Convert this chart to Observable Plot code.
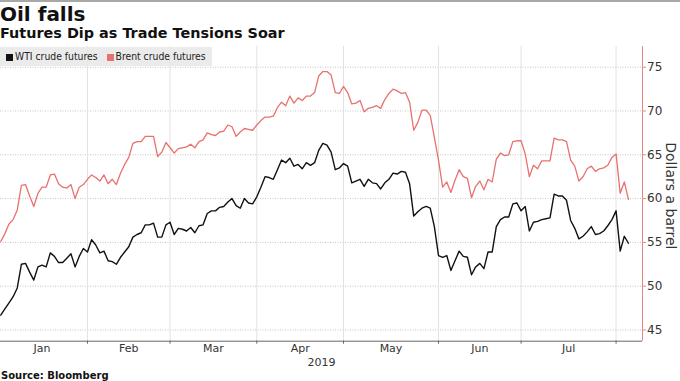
<!DOCTYPE html>
<html>
<head>
<meta charset="utf-8">
<script src="https://cdn.jsdelivr.net/npm/d3@7"></script>
<script src="https://cdn.jsdelivr.net/npm/@observablehq/plot@0.6"></script>
<style>
  html, body { margin: 0; padding: 0; background: #fff; }
  #wrap { position: relative; width: 680px; height: 381px; overflow: hidden; font-family: "DejaVu Sans", sans-serif; color: #111; }
  #topbar { position: absolute; left: 0; top: 0; width: 680px; height: 2px; background: #a8a8a8; }
  #title { position: absolute; left: 0; top: 4px; font-size: 20px; line-height: 20px; font-weight: bold; }
  #subtitle { position: absolute; left: 0; top: 26px; font-size: 14.4px; line-height: 14px; font-weight: bold; }
  #chart { position: absolute; left: 0; top: 42px; }
  #legend { position: absolute; left: 0; top: 47px; width: 212px; height: 19px; background: rgba(232,232,232,0.85);
            font-family: "DejaVu Sans Condensed", "DejaVu Sans", sans-serif; font-stretch: condensed; font-size: 10.3px; line-height: 19px; color: #222; white-space: nowrap; }
  .sw { display: inline-block; width: 7px; height: 7px; vertical-align: -0.5px; margin-right: 2px; }
  #source { position: absolute; left: 1px; top: 371px; font-size: 10px; line-height: 10px; font-weight: bold; }
</style>
</head>
<body>
<div id="wrap">
  <div id="topbar"></div>
  <div id="title">Oil falls</div>
  <div id="subtitle">Futures Dip as Trade Tensions Soar</div>
  <div id="chart"></div>
  <div id="legend"></div>
  <div id="source">Source: Bloomberg</div>
</div>
<script>
// ---- data ----
const startDate = "2019-01-02";
const endDate = "2019-08-05";
const holidays = ["2019-01-01", "2019-04-19"];
const months = ["Jan", "Feb", "Mar", "Apr", "May", "Jun", "Jul"];
const yearLabel = "2019";
const yTicks = [45, 50, 55, 60, 65, 70, 75];
const seriesNames = ["WTI crude futures", "Brent crude futures"];
const seriesColors = ["#111111", "#e8716f"];

// Brent crude futures, one value per trading day (Jan 2 – Aug 5, 2019)
const brent = [
  55.1, 56.0, 57.1, 57.6, 58.7, 61.5, 61.6, 60.3, 59.1, 60.6,
  61.3, 61.3, 62.7, 62.8, 61.7, 61.3, 61.2, 61.6, 60.0, 61.3,
  61.6, 62.2, 62.7, 62.4, 62.0, 62.7, 61.7, 62.2, 61.6, 62.9,
  63.9, 64.7, 66.3, 66.5, 66.5, 67.1, 67.1, 67.1, 64.8, 65.3,
  66.4, 65.8, 65.2, 65.7, 65.8, 65.9, 66.2, 65.8, 66.5, 66.7,
  67.5, 67.3, 67.2, 67.6, 67.7, 68.4, 68.2, 67.1, 67.6, 68.0,
  67.9, 67.8, 68.4, 68.9, 69.3, 69.3, 69.4, 70.4, 71.0, 70.6,
  71.7, 70.9, 71.5, 71.2, 71.7, 71.7, 72.1, 74.0, 74.5, 74.5,
  74.1, 72.1, 72.0, 72.8, 72.1, 70.8, 70.9, 71.2, 69.9, 70.3,
  70.4, 70.6, 70.3, 71.3, 72.0, 72.5, 72.3, 72.0, 72.1, 71.0,
  67.8, 68.7, 70.1, 70.1, 69.5, 67.0, 64.4, 61.3, 61.9, 60.7,
  62.1, 63.3, 62.5, 62.3, 60.1, 61.4, 62.0, 61.0, 62.2, 61.9,
  64.5, 65.2, 64.9, 65.0, 66.5, 66.6, 66.6, 65.1, 62.5, 63.8,
  63.4, 64.3, 64.3, 64.3, 66.9, 66.7, 66.7, 66.5, 64.4, 63.7,
  62.0, 62.5, 63.4, 63.7, 63.1, 63.4, 63.5, 63.8, 64.7, 65.1,
  60.6, 61.9, 59.9
];

// WTI crude futures, one value per trading day
const wti = [
  46.7, 47.4, 48.1, 48.8, 49.8, 52.5, 52.6, 51.6, 50.7, 52.2,
  52.4, 52.2, 53.8, 53.4, 52.7, 52.7, 53.2, 53.7, 52.2, 53.4,
  54.3, 53.9, 55.3, 54.7, 53.8, 54.0, 52.9, 52.8, 52.5, 53.3,
  53.9, 54.5, 55.6, 55.9, 56.1, 57.0, 57.0, 57.2, 55.6, 55.6,
  57.0, 57.3, 55.9, 56.6, 56.5, 56.3, 56.7, 56.1, 56.9, 57.0,
  58.3, 58.6, 58.6, 59.0, 59.1, 59.6, 60.0, 59.2, 58.9, 60.0,
  59.5, 59.4, 60.2, 61.3, 62.5, 62.4, 62.2, 63.3, 64.4, 64.1,
  64.6, 63.7, 63.9, 63.4, 64.1, 63.8, 64.1, 65.5, 66.3, 66.1,
  65.3, 63.3, 63.5, 64.0, 63.7, 61.8, 62.0, 62.2, 61.4, 62.2,
  61.8, 61.7, 61.1, 61.8, 62.2, 62.9, 62.8, 63.1, 63.0, 61.7,
  58.0, 58.5, 58.9, 59.1, 58.9, 56.8, 53.5, 53.3, 53.5, 51.8,
  52.9, 54.0, 53.4, 53.3, 51.3, 52.2, 52.6, 52.0, 53.9, 53.9,
  56.8, 57.6, 57.9, 57.9, 59.4, 59.5, 58.6, 59.1, 56.3, 57.3,
  57.4, 57.6, 57.7, 57.8, 60.5, 60.3, 60.3, 59.8, 57.5, 56.6,
  55.4, 55.7, 56.2, 56.8, 55.9, 56.0, 56.3, 56.9, 57.6, 58.6,
  54.0, 55.7, 54.9
];

// ---- build table ----
const fmt = d3.utcFormat("%Y-%m-%d");
const dates = d3.utcDay.range(new Date(startDate), d3.utcDay.offset(new Date(endDate), 1))
  .filter(d => d.getUTCDay() % 6 !== 0 && !holidays.includes(fmt(d)));
const rows = dates.map((date, i) => ({ i, date, wti: wti[i], brent: brent[i] })).filter(r => r.wti != null);

// last trading-day index of each month -> month boundary
const lastIdx = d3.rollup(rows, v => d3.max(v, r => r.i), r => r.date.getUTCMonth());
const boundaries = months.map((_, m) => lastIdx.get(m));
const monthData = months.map((name, m) => ({
  name,
  center: ((m === 0 ? -1 : lastIdx.get(m - 1)) + lastIdx.get(m)) / 2
}));

const xDomain = [-0.06, 155.4];
const yDomain = [43.72, 77.36];

const chart = Plot.plot({
  width: 680,
  height: 330,
  marginLeft: 0,
  marginRight: 38,
  marginTop: 4,
  marginBottom: 31.3,
  x: { domain: xDomain, axis: null },
  y: { domain: yDomain, axis: null },
  style: { fontFamily: "DejaVu Sans, sans-serif", background: "transparent", overflow: "visible", color: "#333" },
  marks: [
    Plot.ruleY(yTicks, { stroke: "#c4c4c4", strokeDasharray: "1,1.5" }),
    Plot.ruleX(boundaries, { stroke: "#e2e2e2" }),
    Plot.line(rows, { x: "i", y: "brent", stroke: seriesColors[1], strokeWidth: 1.3 }),
    Plot.line(rows, { x: "i", y: "wti", stroke: seriesColors[0], strokeWidth: 1.4 }),
    Plot.ruleY([yDomain[0]], { stroke: "#666" }),
    Plot.axisX(boundaries, { tickSize: 3, tickFormat: () => "", stroke: "#666" }),
    Plot.ruleX([xDomain[1]], { stroke: "#e58585" }),
    Plot.axisY(yTicks, { anchor: "right", tickSize: 3, tickPadding: 1.5, stroke: "#e58585", fill: "#333", fontSize: 12, label: null }),
    Plot.text(monthData, { x: "center", text: "name", frameAnchor: "bottom", dy: 10.5, fontSize: 11, fill: "#333" }),
    Plot.text([yearLabel], { frameAnchor: "bottom", dy: 25, fontSize: 11, fill: "#333" }),
    Plot.text(["Dollars a barrel"], { frameAnchor: "right", textAnchor: "middle", rotate: 90, dx: 27.5, dy: 2, fontSize: 14, fill: "#333" })
  ]
});
document.getElementById("chart").appendChild(chart);

// legend
const legend = document.getElementById("legend");
seriesNames.forEach((name, k) => {
  const item = document.createElement("span");
  item.style.marginLeft = k === 0 ? "6px" : "9px";
  item.innerHTML = `<span class="sw" style="background:${seriesColors[k]}"></span>${name}`;
  legend.appendChild(item);
});
</script>
</body>
</html>
